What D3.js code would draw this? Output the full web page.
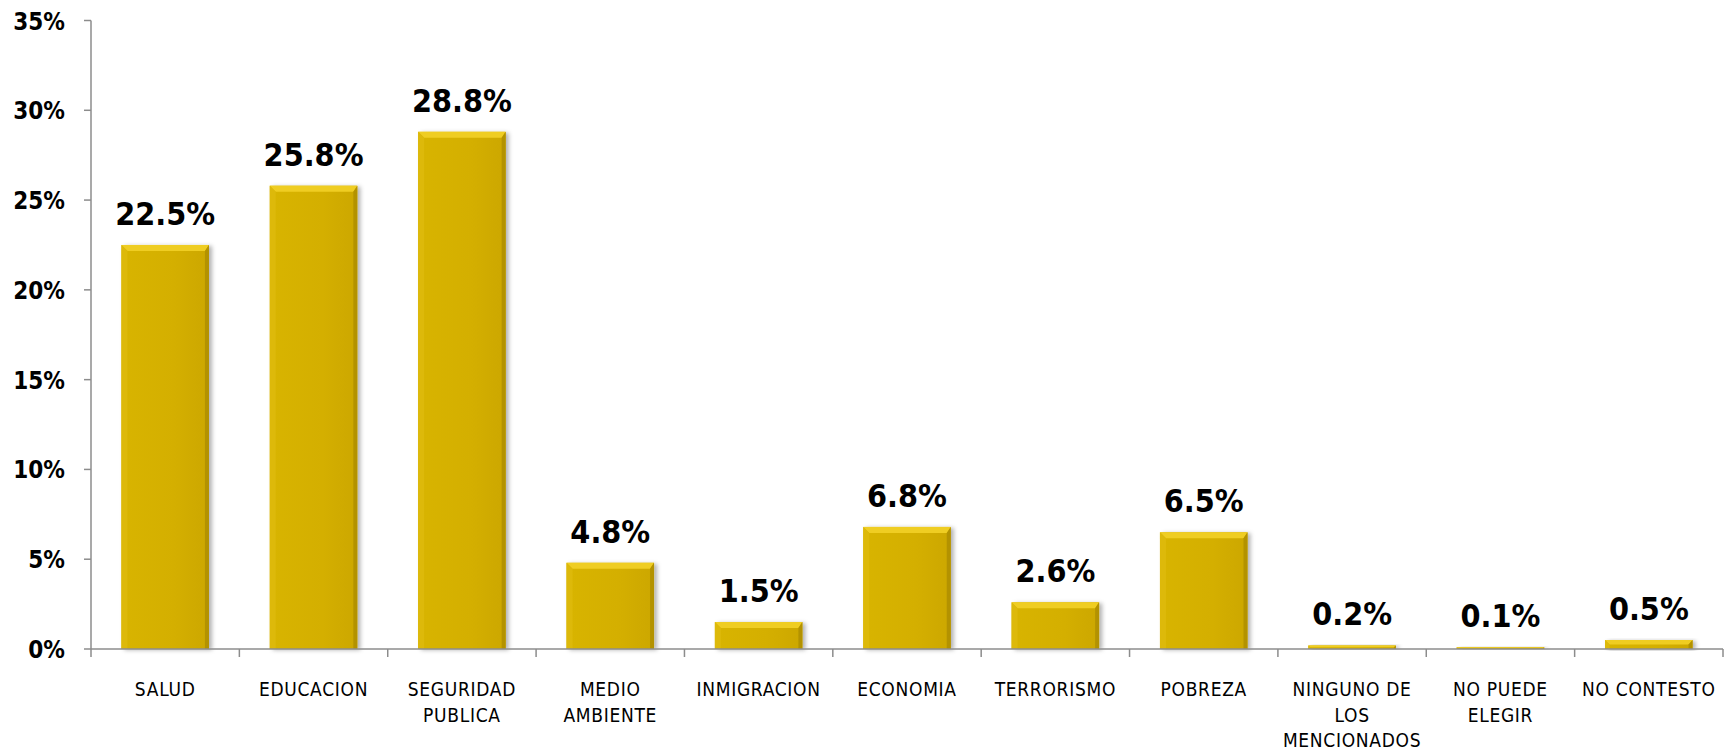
<!DOCTYPE html>
<html>
<head>
<meta charset="utf-8">
<script src="https://cdn.jsdelivr.net/npm/d3@7"></script>
<style>
  html, body { margin: 0; padding: 0; background: #fff; }
  svg { display: block; }
</style>
</head>
<body>
<svg id="chart" width="1733" height="752"></svg>
<script>
const categories = ["SALUD", "EDUCACION", "SEGURIDAD PUBLICA", "MEDIO AMBIENTE", "INMIGRACION", "ECONOMIA", "TERRORISMO", "POBREZA", "NINGUNO DE LOS MENCIONADOS", "NO PUEDE ELEGIR", "NO CONTESTO"];
const categoryLines = [["SALUD"], ["EDUCACION"], ["SEGURIDAD", "PUBLICA"], ["MEDIO", "AMBIENTE"], ["INMIGRACION"], ["ECONOMIA"], ["TERRORISMO"], ["POBREZA"], ["NINGUNO DE", "LOS", "MENCIONADOS"], ["NO PUEDE", "ELEGIR"], ["NO CONTESTO"]];
const values = [22.5, 25.8, 28.8, 4.8, 1.5, 6.8, 2.6, 6.5, 0.2, 0.1, 0.5];
const yTicks = [0, 5, 10, 15, 20, 25, 30, 35];

(function () {
const svg = d3.select("#chart");
const pLeft = 91, pRight = 1723, pTop = 20.5, pBottom = 649;
const FONT = "'DejaVu Sans Condensed', 'DejaVu Sans', sans-serif";

const x = d3.scaleBand().domain(categories).range([pLeft, pRight]).paddingInner(0.41).paddingOuter(0.205);
const y = d3.scaleLinear().domain([0, 35]).range([pBottom, pTop]);

const defs = svg.append("defs");
const f = defs.append("filter").attr("id", "shadow").attr("x", "-20%").attr("y", "-20%").attr("width", "150%").attr("height", "140%");
f.append("feDropShadow").attr("dx", 3).attr("dy", 1).attr("stdDeviation", 2.2).attr("flood-color", "#000").attr("flood-opacity", 0.3);

const grad = defs.append("linearGradient").attr("id", "face").attr("x1", 0).attr("x2", 1).attr("y1", 0).attr("y2", 0);
grad.append("stop").attr("offset", "0%").attr("stop-color", "#D8B404");
grad.append("stop").attr("offset", "60%").attr("stop-color", "#D4AF02");
grad.append("stop").attr("offset", "100%").attr("stop-color", "#CCA700");

// bars
const bars = svg.append("g").selectAll("g").data(categories).join("g");
bars.each(function(c, i) {
  const g = d3.select(this);
  const x0 = x(c), x1 = x(c) + x.bandwidth();
  const y0 = y(values[i]), y1 = y(0);
  const h = y1 - y0;
  const b = Math.min(6, h / 2);
  const br = Math.min(4, h / 2);
  g.append("rect").attr("x", x0).attr("y", y0).attr("width", x1 - x0).attr("height", h)
    .attr("fill", "url(#face)").attr("filter", "url(#shadow)");
  g.append("polygon").attr("points", [[x0, y0], [x1, y0], [x1 - br, y0 + b], [x0 + b, y0 + b]].map(p => p.join(",")).join(" "))
    .attr("fill", "#EFCD22");
  g.append("polygon").attr("points", [[x0, y0], [x0 + b, y0 + b], [x0 + b, y1], [x0, y1]].map(p => p.join(",")).join(" "))
    .attr("fill", "#DDB90A");
  g.append("polygon").attr("points", [[x1, y0], [x1, y1], [x1 - br, y1], [x1 - br, y0 + b]].map(p => p.join(",")).join(" "))
    .attr("fill", "#B39200");
  g.append("text").attr("x", (x0 + x1) / 2).attr("y", y0 - 20)
    .attr("text-anchor", "middle").attr("font-family", FONT).attr("font-weight", "bold")
    .attr("font-size", 32).attr("fill", "#000")
    .text(values[i].toFixed(1) + "%");
});

// y axis
const yAxis = svg.append("g");
yAxis.append("line").attr("x1", pLeft).attr("x2", pLeft).attr("y1", pTop).attr("y2", pBottom)
  .attr("stroke", "#8c8c8c").attr("stroke-width", 1.5);
yAxis.selectAll("line.t").data(yTicks).join("line").attr("class", "t")
  .attr("x1", pLeft - 7).attr("x2", pLeft).attr("y1", d => y(d)).attr("y2", d => y(d))
  .attr("stroke", "#8c8c8c").attr("stroke-width", 1.5);
yAxis.selectAll("text").data(yTicks).join("text")
  .attr("x", 65).attr("y", d => y(d) + 1).attr("dominant-baseline", "central")
  .attr("text-anchor", "end").attr("font-family", FONT).attr("font-weight", "bold")
  .attr("font-size", 24).attr("fill", "#000")
  .text(d => d + "%");

// x axis
const xAxis = svg.append("g");
xAxis.append("line").attr("x1", pLeft).attr("x2", pRight).attr("y1", pBottom).attr("y2", pBottom)
  .attr("stroke", "#8c8c8c").attr("stroke-width", 1.5);
const boundaries = categories.map(c => x(c) - x.step() * x.paddingInner() / 2);
boundaries.push(pRight);
boundaries[0] = pLeft;
xAxis.selectAll("line.t").data(boundaries).join("line").attr("class", "t")
  .attr("x1", d => d).attr("x2", d => d).attr("y1", pBottom).attr("y2", pBottom + 8)
  .attr("stroke", "#8c8c8c").attr("stroke-width", 1.5);
const labels = xAxis.selectAll("text").data(categories).join("text")
  .attr("text-anchor", "middle").attr("font-family", FONT)
  .attr("font-size", 19).attr("letter-spacing", "0.7px").attr("fill", "#000");
labels.each(function(c, i) {
  const t = d3.select(this);
  categoryLines[i].forEach((ln, k) => {
    t.append("tspan").attr("x", x(c) + x.bandwidth() / 2).attr("y", 696 + k * 25.5).text(ln);
  });
});
})();
</script>
</body>
</html>
